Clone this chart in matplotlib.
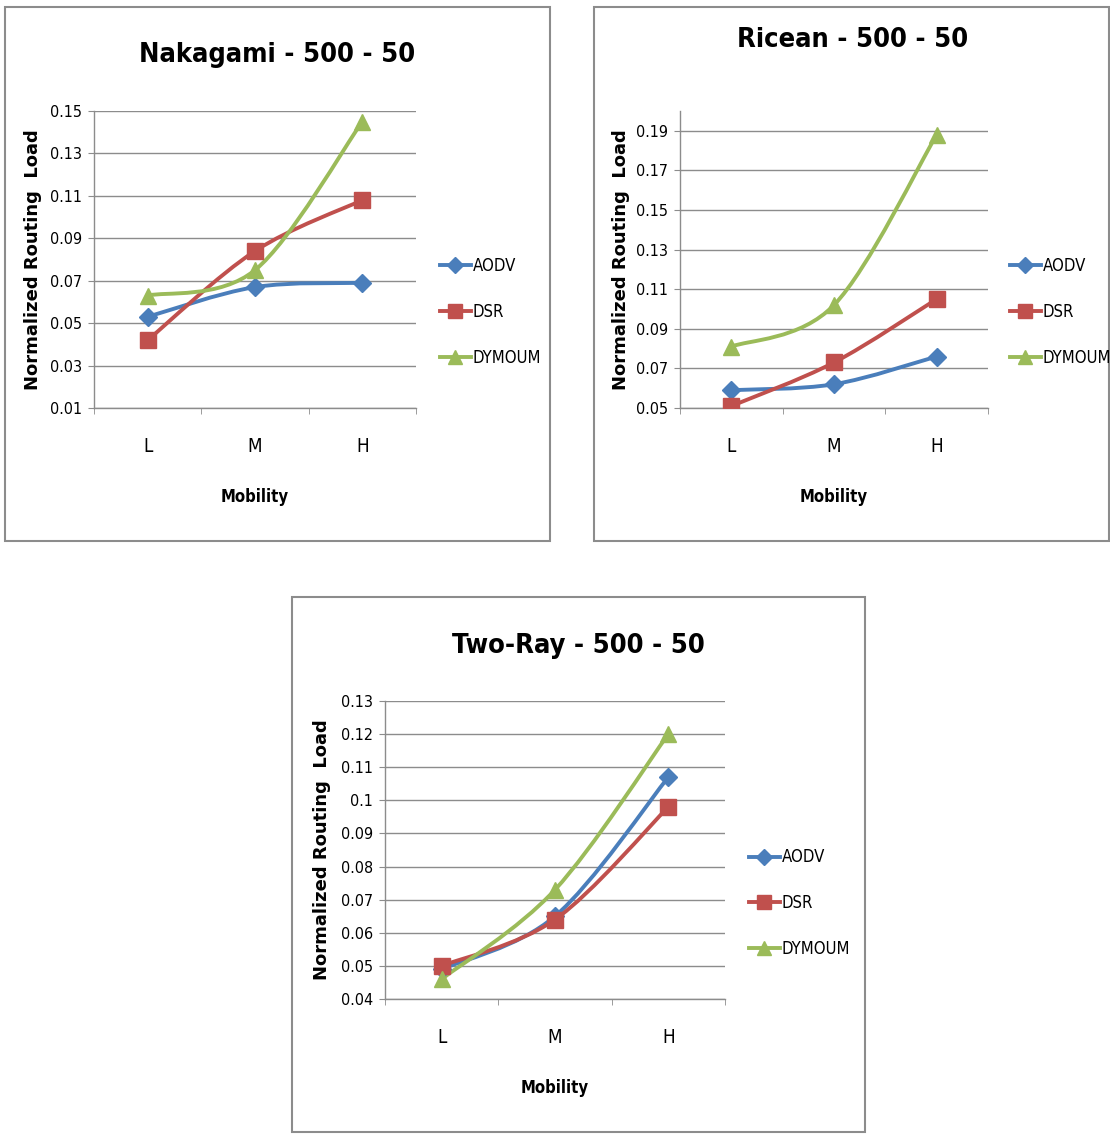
import os
import matplotlib
matplotlib.use("Agg")
import matplotlib.pyplot as plt
from matplotlib import font_manager as fm
from matplotlib.path import Path
from matplotlib.patches import PathPatch, Rectangle
from matplotlib.lines import Line2D
import numpy as np

categories = ["L", "M", "H"]
series_names = ["AODV", "DSR", "DYMOUM"]

nakagami_aodv = [0.053, 0.067, 0.069]
nakagami_dsr = [0.042, 0.084, 0.108]
nakagami_dymoum = [0.063, 0.075, 0.145]

ricean_aodv = [0.059, 0.062, 0.076]
ricean_dsr = [0.051, 0.073, 0.105]
ricean_dymoum = [0.081, 0.102, 0.188]

tworay_aodv = [0.049, 0.065, 0.107]
tworay_dsr = [0.050, 0.064, 0.098]
tworay_dymoum = [0.046, 0.073, 0.120]

nakagami_ticks = [0.01, 0.03, 0.05, 0.07, 0.09, 0.11, 0.13, 0.15]
ricean_ticks = [0.05, 0.07, 0.09, 0.11, 0.13, 0.15, 0.17, 0.19]
tworay_ticks = [0.04, 0.05, 0.06, 0.07, 0.08, 0.09, 0.1, 0.11, 0.12, 0.13]

colors = ["#4A7EBB", "#C0504D", "#9BBB59"]
markers = ["D", "s", "^"]
msizes = [9, 11, 11]


# ---- find a condensed font (fallback to a normal sans) ----
def _find(names):
    files = {}
    try:
        for p in fm.findSystemFonts():
            files.setdefault(os.path.basename(p), p)
    except Exception:
        pass
    for f in fm.fontManager.ttflist:
        files.setdefault(os.path.basename(f.fname), f.fname)
    for n in names:
        if n in files:
            return files[n]
    return None


reg_file = _find(["NotoSans-ExtraCondensed.ttf", "NotoSans-Condensed.ttf",
                  "LiberationSansNarrow-Regular.ttf", "DejaVuSansCondensed.ttf"])
bold_file = _find(["NotoSans-ExtraCondensedBold.ttf", "NotoSans-CondensedBold.ttf",
                   "LiberationSansNarrow-Bold.ttf", "DejaVuSansCondensed-Bold.ttf"])


def fp_reg(size):
    if reg_file:
        return fm.FontProperties(fname=reg_file, size=size)
    return fm.FontProperties(family="Roboto", size=size * 0.85)


def fp_bold(size):
    if bold_file:
        return fm.FontProperties(fname=bold_file, size=size)
    return fm.FontProperties(family="Roboto", weight="bold", size=size * 0.85)


W, H = 1110, 1135
fig = plt.figure(figsize=(W / 100, H / 100), dpi=100)
fig.patch.set_facecolor("white")


def fx(px):
    return px / W


def fy(py):
    return 1 - py / H


def smooth_path(xs, ys):
    pts = np.column_stack([xs, ys]).astype(float)
    n = len(pts)
    verts = [pts[0]]
    codes = [Path.MOVETO]
    for i in range(n - 1):
        p_prev = pts[i - 1] if i > 0 else pts[i]
        p0 = pts[i]
        p1 = pts[i + 1]
        p_next = pts[i + 2] if i + 2 < n else pts[i + 1]
        c1 = p0 + (p1 - p_prev) / 6.0
        c2 = p1 - (p_next - p0) / 6.0
        verts += [c1, c2, p1]
        codes += [Path.CURVE4] * 3
    return Path(verts, codes)


def panel(box, axbox, title, title_xy, ylabel_xy, data, yticks, ylim, tick_labels,
          legend_xy, mobility_y):
    x0, y0, x1, y1 = box
    fig.patches.append(Rectangle((fx(x0), fy(y1)), fx(x1) - fx(x0), fy(y0) - fy(y1),
                                 transform=fig.transFigure, fill=False,
                                 edgecolor="#8c8c8c", linewidth=1.5))
    l, t, r, b = axbox
    ax = fig.add_axes([fx(l), fy(b), fx(r) - fx(l), fy(t) - fy(b)])
    ax.set_facecolor("none")
    xs = np.arange(len(categories))
    handles = []
    for vals, c, m, ms, name in zip(data, colors, markers, msizes, series_names):
        path = smooth_path(xs, vals)
        ax.add_patch(PathPatch(path, facecolor="none", edgecolor=c, linewidth=2.8,
                               capstyle="round", joinstyle="round", zorder=3))
        ax.plot(xs, vals, linestyle="none", marker=m, markersize=ms, color=c,
                markeredgecolor=c, zorder=4)
        handles.append(Line2D([0], [0], color=c, linewidth=2.8, marker=m,
                              markersize=ms * 0.95, markeredgecolor=c))
    ax.set_xlim(-0.5, len(categories) - 0.5)
    ax.set_ylim(*ylim)
    ax.set_yticks(yticks)
    ax.set_yticklabels(tick_labels)
    for lab in ax.get_yticklabels():
        lab.set_fontproperties(fp_reg(11.5))
    ax.yaxis.grid(True, color="#8c8c8c", linewidth=1.0)
    ax.set_axisbelow(True)
    ax.set_xticks(xs)
    ax.set_xticklabels(categories)
    for lab in ax.get_xticklabels():
        lab.set_fontproperties(fp_reg(13.5))
    ax.tick_params(axis="x", which="major", length=0, pad=21)
    ax.set_xticks(np.arange(-0.5, len(categories)), minor=True)
    ax.tick_params(axis="x", which="minor", length=4.5, color="#8c8c8c", direction="out")
    ax.tick_params(axis="y", length=4.5, color="#8c8c8c", direction="out", pad=4)
    for s in ["top", "right"]:
        ax.spines[s].set_visible(False)
    for s in ["left", "bottom"]:
        ax.spines[s].set_color("#8c8c8c")
        ax.spines[s].set_linewidth(1.0)
    fig.text(fx(title_xy[0]), fy(title_xy[1]), title, ha="center", va="center",
             fontproperties=fp_bold(19.5))
    fig.text(fx(ylabel_xy[0]), fy(ylabel_xy[1]), "Normalized Routing  Load", rotation=90,
             ha="center", va="center", fontsize=13, fontweight="bold",
             fontfamily="DejaVu Sans")
    fig.text(fx((l + r) / 2), fy(mobility_y), "Mobility", ha="center", va="center",
             fontproperties=fp_bold(12))
    fig.legend(handles, series_names, loc="center left",
               bbox_to_anchor=(fx(legend_xy[0]), fy(legend_xy[1])),
               frameon=False, handlelength=1.85, handletextpad=0.1, labelspacing=1.66,
               prop=fp_reg(12), borderaxespad=0, borderpad=0)
    return ax


panel((5, 7, 550, 541), (94, 111, 416, 408), "Nakagami - 500 - 50", (277, 55), (33, 260),
      [nakagami_aodv, nakagami_dsr, nakagami_dymoum], nakagami_ticks, (0.01, 0.15),
      ["0.01", "0.03", "0.05", "0.07", "0.09", "0.11", "0.13", "0.15"],
      (440, 312), 497)

panel((594, 7, 1109, 541), (680, 111, 988, 408), "Ricean - 500 - 50", (853, 40), (621, 260),
      [ricean_aodv, ricean_dsr, ricean_dymoum], ricean_ticks, (0.05, 0.20),
      ["0.05", "0.07", "0.09", "0.11", "0.13", "0.15", "0.17", "0.19"],
      (1010, 312), 497)

panel((292, 597, 865, 1132), (385, 701, 725, 999), "Two-Ray - 500 - 50", (578, 646), (322, 850),
      [tworay_aodv, tworay_dsr, tworay_dymoum], tworay_ticks, (0.04, 0.13),
      ["0.04", "0.05", "0.06", "0.07", "0.08", "0.09", "0.1", "0.11", "0.12", "0.13"],
      (749, 903), 1088)

fig.savefig("out.png", dpi=100, facecolor="white")
